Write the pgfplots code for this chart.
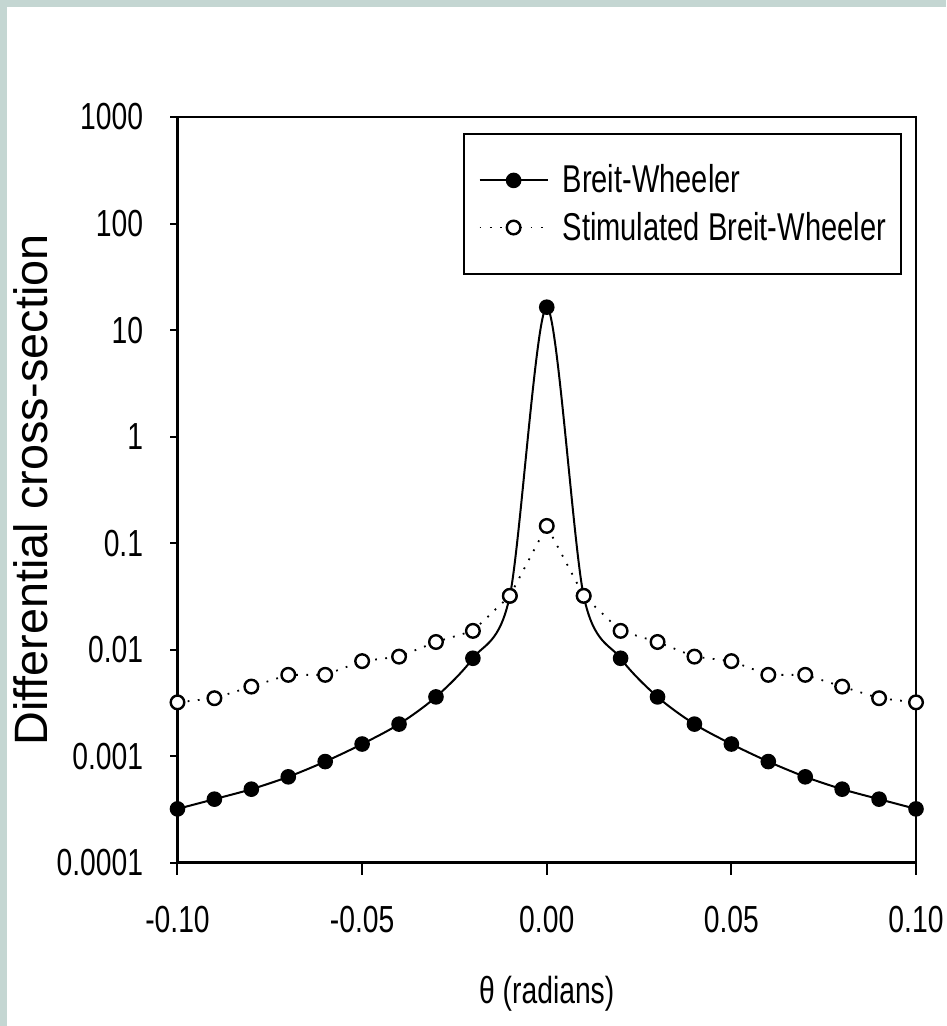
\documentclass[border=0pt]{standalone}
\usepackage{fontspec}
\setmainfont{Liberation Sans}
\newfontfamily\narrowfont{Liberation Sans}[FakeStretch=0.75]
\usepackage{pgfplots}
\usepackage{pgfplotstable}
\pgfplotsset{compat=1.18}

\definecolor{bgteal}{RGB}{196,214,210}

% Differential cross-section against angle
\pgfplotstableread{
x      y
-0.10  3.2e-4
-0.09  3.95e-4
-0.08  4.9e-4
-0.07  6.4e-4
-0.06  8.9e-4
-0.05  1.30e-3
-0.04  2.0e-3
-0.03  3.6e-3
-0.02  8.3e-3
-0.01  3.2e-2
 0.00  16.4
 0.01  3.2e-2
 0.02  8.3e-3
 0.03  3.6e-3
 0.04  2.0e-3
 0.05  1.30e-3
 0.06  8.9e-4
 0.07  6.4e-4
 0.08  4.9e-4
 0.09  3.95e-4
 0.10  3.2e-4
}\bwtable

\pgfplotstableread{
x      y
-0.10  3.2e-3
-0.09  3.5e-3
-0.08  4.5e-3
-0.07  5.8e-3
-0.06  5.8e-3
-0.05  7.8e-3
-0.04  8.6e-3
-0.03  1.18e-2
-0.02  1.5e-2
-0.01  3.2e-2
 0.00  0.145
 0.01  3.2e-2
 0.02  1.5e-2
 0.03  1.18e-2
 0.04  8.6e-3
 0.05  7.8e-3
 0.06  5.8e-3
 0.07  5.8e-3
 0.08  4.5e-3
 0.09  3.5e-3
 0.10  3.2e-3
}\sbwtable

\newcommand{\labelfont}{\narrowfont\fontsize{18.85}{22}\selectfont}
\newcommand{\legendfont}{\narrowfont\fontsize{19.4}{22}\selectfont}

\begin{document}
\begin{tikzpicture}
\fill[bgteal] (-88.75pt,-81.65pt) rectangle (384.25pt,431.35pt);
\fill[white] (-85.25pt,-81.65pt) rectangle (384.25pt,427.85pt);
\useasboundingbox (-88.75pt,-81.65pt) rectangle (384.25pt,431.35pt);
\begin{axis}[
  at={(0pt,0pt)}, anchor=south west,
  scale only axis,
  width=369.25pt, height=372.85pt,
  ymode=log,
  xmin=-0.1, xmax=0.1,
  ymin=1e-4, ymax=1e3,
  xtick={-0.1,-0.05,0,0.05,0.1},
  xticklabels={-0.10,-0.05,0.00,0.05,0.10},
  ytick={1e-4,1e-3,1e-2,1e-1,1,10,100,1000},
  yticklabels={0.0001,0.001,0.01,0.1,1,10,100,1000},
  yminorticks=false,
  tick align=outside,
  xtick pos=bottom, ytick pos=left,
  xtick style={/pgfplots/major tick length=6pt},
  ytick style={/pgfplots/major tick length=3.5pt},
  every tick/.style={black, line width=1pt},
  axis line style={line width=1.3pt},
  ticklabel style={font=\labelfont, inner sep=0pt},
  xticklabel style={anchor=north, yshift=-17.5pt},
  yticklabel style={anchor=east, xshift=-12.75pt},
  xlabel={θ (radians)},
  ylabel={Differential cross-section},
  xlabel style={font=\labelfont, at={(axis description cs:0.5,-0.1757)}, anchor=center},
  ylabel style={font=\fontsize{23.4}{26}\selectfont, at={(axis description cs:-0.1984,0.5)}, anchor=center},
  legend style={
    at={(rel axis cs:0.981,0.9786)}, anchor=north east,
    draw=black, line width=0.9pt, fill=white,
    inner xsep=7.5pt, inner ysep=15.5pt,
    row sep=8pt, column sep=7pt,
    nodes={inner sep=0pt, font=\legendfont},
  },
  legend cell align=left,
  legend image code/.code={%
    \draw[mark repeat=2,mark phase=2,#1]
      plot coordinates {(0pt,0pt) (17pt,0pt) (34pt,0pt)};},
]
\addplot[black, line width=1pt, smooth, mark=*, mark size=3.4pt,
  mark options={solid, fill=black}]
  table[x=x, y=y] {\bwtable};
\addlegendentry{Breit-Wheeler}
\addplot[black, line width=0.9pt, dash pattern=on 0.9pt off 4.2pt,
  mark=*, mark size=3.4pt,
  mark options={solid, draw=black, fill=white, line width=1.2pt}]
  table[x=x, y=y] {\sbwtable};
\addlegendentry{Stimulated Breit-Wheeler}
\end{axis}
\end{tikzpicture}
\end{document}
